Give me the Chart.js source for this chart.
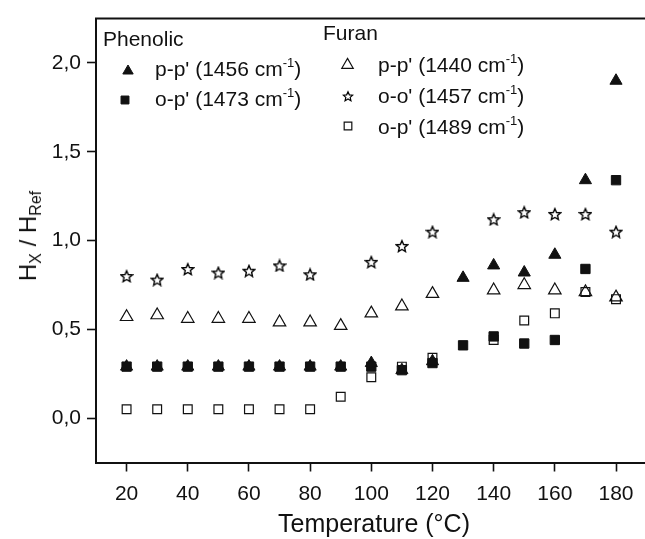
<!DOCTYPE html>
<html>
<head>
<meta charset="utf-8">
<script src="https://cdn.jsdelivr.net/npm/chart.js@4.4.1/dist/chart.umd.min.js"></script>
<style>
  html, body { margin: 0; padding: 0; background: #fff; overflow: hidden; width: 645px; height: 539px; }
  #wrap { position: relative; width: 660px; height: 539px; }
  #chart { position: absolute; left: 0; top: 0; }
  .txt { position: absolute; font-family: "Liberation Sans", Arial, sans-serif; color: #111; white-space: nowrap; line-height: 1; }
  .lg { font-size: 21px; }
  .lg sup { font-size: 13px; position: relative; top: -9px; vertical-align: baseline; line-height: 0; }
  #ytitle { font-size: 24px; left: 28px; top: 236px; transform: translate(-50%, -50%) rotate(-90deg); }
  #ytitle sub { font-size: 16px; position: relative; top: 5px; vertical-align: baseline; line-height: 0; }
  #xtitle { font-size: 25px; left: 374px; top: 511px; transform: translateX(-50%); }
</style>
</head>
<body>
<div id="wrap">
  <canvas id="chart" width="655" height="539"></canvas>

  <div class="txt lg" style="left:103px;top:28px">Phenolic</div>
  <div class="txt lg" style="left:155px;top:58px">p-p' (1456 cm<sup>-1</sup>)</div>
  <div class="txt lg" style="left:155px;top:88px">o-p' (1473 cm<sup>-1</sup>)</div>
  <div class="txt lg" style="left:323px;top:22px">Furan</div>
  <div class="txt lg" style="left:378px;top:54px">p-p' (1440 cm<sup>-1</sup>)</div>
  <div class="txt lg" style="left:378px;top:85px">o-o' (1457 cm<sup>-1</sup>)</div>
  <div class="txt lg" style="left:378px;top:116px">o-p' (1489 cm<sup>-1</sup>)</div>

  <div class="txt" id="ytitle">H<sub>X</sub> / H<sub>Ref</sub></div>
  <div class="txt" id="xtitle">Temperature (°C)</div>
</div>

<script>
// Temperatures (°C) and the H_X / H_Ref ratio of each band; null = no point
const temps = [20, 30, 40, 50, 60, 70, 80, 90, 100, 110, 120, 130, 140, 150, 160, 170, 180];
const phenolicPP = [0.29, 0.29, 0.29, 0.29, 0.29, 0.29, 0.29, 0.29, 0.31, 0.27, 0.32, 0.79, 0.86, 0.82, 0.92, 1.34, 1.90];
const phenolicOP = [0.29, 0.29, 0.29, 0.29, 0.29, 0.29, 0.29, 0.29, 0.29, 0.27, 0.31, 0.41, 0.46, 0.42, 0.44, 0.84, 1.34];
const furanPP = [0.57, 0.58, 0.56, 0.56, 0.56, 0.54, 0.54, 0.52, 0.59, 0.63, 0.70, null, 0.72, 0.75, 0.72, 0.71, 0.68];
const furanOO = [0.80, 0.78, 0.84, 0.82, 0.83, 0.86, 0.81, null, 0.88, 0.97, 1.05, null, 1.12, 1.16, 1.15, 1.15, 1.05];
const furanOP = [0.05, 0.05, 0.05, 0.05, 0.05, 0.05, 0.05, 0.12, 0.23, 0.29, 0.34, null, 0.44, 0.55, 0.59, 0.71, 0.67];

const xTicks = [20, 40, 60, 80, 100, 120, 140, 160, 180];
const yTicks = [0, 0.5, 1.0, 1.5, 2.0];

const ink = "#111";

// outlined five-point star used as a point style
function makeStar(size, lw) {
  const c = document.createElement("canvas");
  c.width = size;
  c.height = size;
  const g = c.getContext("2d");
  const cx = size / 2, cy = size / 2 + 0.7;
  const R = size / 2 - 1, r = R * 0.46;
  g.beginPath();
  for (let k = 0; k < 10; k++) {
    const rad = k % 2 === 0 ? R : r;
    const a = -Math.PI / 2 + k * Math.PI / 5;
    const px = cx + Math.cos(a) * rad, py = cy + Math.sin(a) * rad;
    k === 0 ? g.moveTo(px, py) : g.lineTo(px, py);
  }
  g.closePath();
  g.fillStyle = "#fff";
  g.fill();
  g.strokeStyle = "#000";
  g.lineWidth = lw;
  g.lineJoin = "miter";
  g.stroke();
  return c;
}

const starBig = makeStar(14, 1.4);
const starSmall = makeStar(12, 1.2);

const toPoints = (vals) =>
  temps.map((t, i) => ({ x: t, y: vals[i] })).filter((p) => p.y !== null);

// legend marker spots (canvas px) and sizes, same order as datasets
const legendMarks = [
  { x: 128, y: 71, r: 6 },
  { x: 125, y: 100, r: 5.6 },
  { x: 347.5, y: 65, r: 6.6 },
  { x: 348, y: 96, r: 0, img: starSmall },
  { x: 348, y: 126, r: 5.4 },
];

const framePlugin = {
  id: "frame",
  afterDraw(chart) {
    const { ctx, chartArea: a } = chart;
    ctx.save();
    ctx.strokeStyle = ink;
    ctx.lineWidth = 2;
    ctx.beginPath();
    ctx.moveTo(a.left - 1, a.top);
    ctx.lineTo(a.right, a.top);
    ctx.lineTo(a.right, a.bottom);
    ctx.stroke();

    chart.data.datasets.forEach((ds, i) => {
      const m = legendMarks[i];
      ctx.fillStyle = ds.backgroundColor;
      ctx.strokeStyle = ds.borderColor;
      ctx.lineWidth = ds.borderWidth;
      Chart.helpers.drawPoint(ctx, {
        pointStyle: m.img || ds.pointStyle,
        radius: m.r,
        rotation: 0,
        borderWidth: ds.borderWidth,
      }, m.x, m.y);
    });
    ctx.restore();
  },
};

const tickFont = { family: "Liberation Sans", size: 21 };

new Chart(document.getElementById("chart"), {
  type: "scatter",
  data: {
    datasets: [
      {
        label: "Phenolic p-p' (1456 cm-1)",
        data: toPoints(phenolicPP),
        pointStyle: "triangle",
        pointRadius: 7,
        backgroundColor: ink,
        borderColor: ink,
        borderWidth: 1,
      },
      {
        label: "Phenolic o-p' (1473 cm-1)",
        data: toPoints(phenolicOP),
        pointStyle: "rect",
        pointRadius: 6.6,
        backgroundColor: ink,
        borderColor: ink,
        borderWidth: 1,
      },
      {
        label: "Furan p-p' (1440 cm-1)",
        data: toPoints(furanPP),
        pointStyle: "triangle",
        pointRadius: 7.2,
        backgroundColor: "rgba(255,255,255,0)",
        borderColor: ink,
        borderWidth: 1.2,
      },
      {
        label: "Furan o-o' (1457 cm-1)",
        data: toPoints(furanOO),
        pointStyle: starBig,
        pointRadius: 7,
        backgroundColor: "rgba(255,255,255,0)",
        borderColor: ink,
        borderWidth: 1,
      },
      {
        label: "Furan o-p' (1489 cm-1)",
        data: toPoints(furanOP),
        pointStyle: "rect",
        pointRadius: 6.2,
        backgroundColor: "rgba(255,255,255,0)",
        borderColor: ink,
        borderWidth: 1.2,
      },
    ],
  },
  options: {
    responsive: false,
    animation: false,
    devicePixelRatio: 1,
    layout: { padding: { top: 12.5, right: 2, left: 0, bottom: 0 } },
    plugins: {
      legend: { display: false },
      tooltip: { enabled: false },
    },
    scales: {
      x: {
        type: "linear",
        min: 10,
        max: 190,
        afterFit: (s) => { s.height = 76.5; },
        afterBuildTicks: (s) => { s.ticks = xTicks.map((v) => ({ value: v })); },
        ticks: { color: ink, font: tickFont, padding: 10, maxRotation: 0 },
        grid: { drawOnChartArea: false, drawTicks: true, tickLength: 9, tickColor: ink, tickWidth: 1.6 },
        border: { display: true, color: ink, width: 2 },
      },
      y: {
        type: "linear",
        min: -0.25,
        max: 2.25,
        afterFit: (s) => { s.width = 96; },
        afterBuildTicks: (s) => { s.ticks = yTicks.map((v) => ({ value: v })); },
        ticks: {
          color: ink,
          font: tickFont,
          padding: 6,
          callback: (v) => v.toFixed(1).replace(".", ","),
        },
        grid: { drawOnChartArea: false, drawTicks: true, tickLength: 9, tickColor: ink, tickWidth: 1.6 },
        border: { display: true, color: ink, width: 2 },
      },
    },
  },
  plugins: [framePlugin],
});
</script>
</body>
</html>
